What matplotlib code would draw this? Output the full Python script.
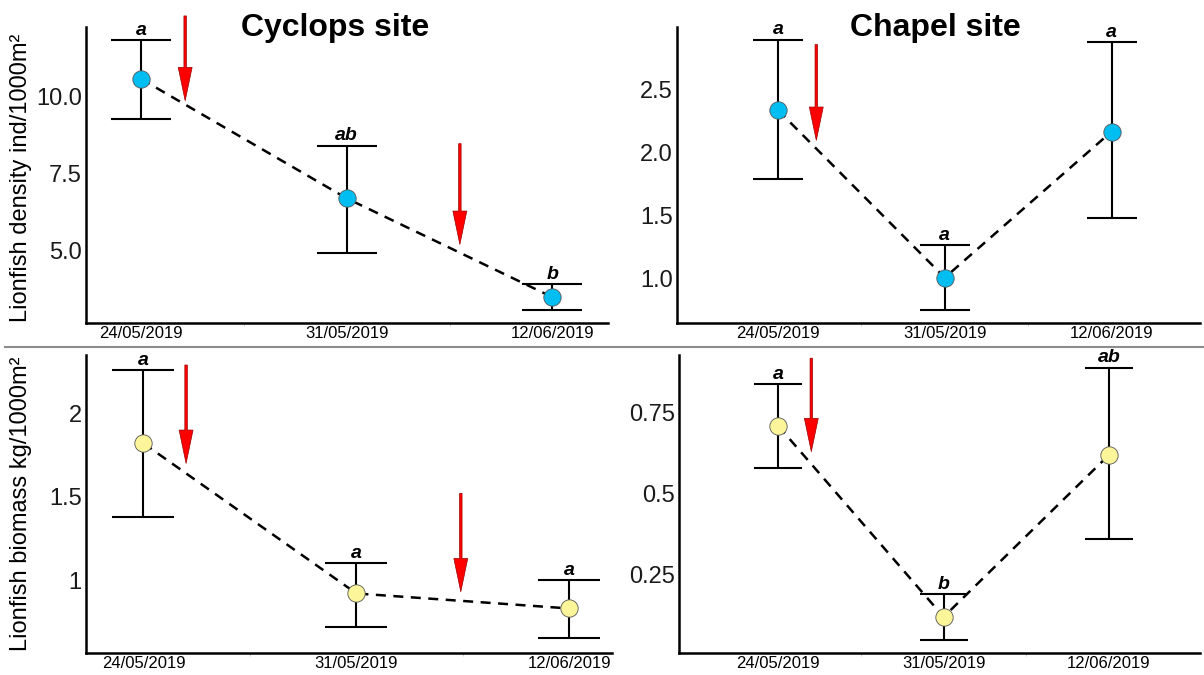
import matplotlib
matplotlib.use('Agg')
import matplotlib.pyplot as plt
from matplotlib.lines import Line2D

plt.rcParams['font.family'] = ['Liberation Sans', 'DejaVu Sans']

# 数据
dates = ['24/05/2019', '31/05/2019', '12/06/2019']
xpos = [1, 2, 3]

dens_cyclops = [10.58, 6.69, 3.47]
dens_cyclops_lo = [9.29, 4.90, 3.06]
dens_cyclops_hi = [11.85, 8.41, 3.90]
dens_cyclops_let = ['a', 'ab', 'b']

dens_chapel = [2.34, 1.01, 2.17]
dens_chapel_lo = [1.79, 0.75, 1.48]
dens_chapel_hi = [2.90, 1.27, 2.88]
dens_chapel_let = ['a', 'a', 'a']

bio_cyclops = [1.82, 0.92, 0.83]
bio_cyclops_lo = [1.38, 0.72, 0.65]
bio_cyclops_hi = [2.26, 1.10, 1.00]
bio_cyclops_let = ['a', 'a', 'a']

bio_chapel = [0.71, 0.117, 0.62]
bio_chapel_lo = [0.58, 0.045, 0.36]
bio_chapel_hi = [0.84, 0.187, 0.89]
bio_chapel_let = ['a', 'b', 'ab']

# 红色箭头 (x, 起点y, 终点y)
arrows_tl = [(1.215, 12.63, 9.87), (2.55, 8.47, 5.19)]
arrows_tr = [(1.23, 2.86, 2.10)]
arrows_bl = [(1.20, 2.29, 1.70), (2.49, 1.52, 0.93)]
arrows_br = [(1.20, 0.92, 0.63)]

blue = '#00BEF2'
yellow = '#FDF59A'

fig = plt.figure(figsize=(12.04, 6.75), dpi=100)

W, H = 1204, 675


def px_axes(left, right, top, bottom):
    return fig.add_axes((left / W, (H - bottom) / H, (right - left) / W, (bottom - top) / H))


def panel(ax, y, lo, hi, letters, color, arrows, xlim, ylim, yticks, yticklabels, capsize):
    yerr = [[v - l for v, l in zip(y, lo)], [h - v for v, h in zip(y, hi)]]
    ax.plot(xpos, y, color='black', ls=(0, (4, 3)), lw=1.8, zorder=2)
    ax.errorbar(xpos, y, yerr=yerr, fmt='none', ecolor='black', elinewidth=1.5,
                capsize=capsize, capthick=1.5, zorder=3)
    ax.plot(xpos, y, 'o', ms=12.5, mfc=color, mec='#555555', mew=0.6, ls='none', zorder=4)
    for x, h, t in zip(xpos, hi, letters):
        ax.annotate(t, (x, h), xytext=(0, 1), textcoords='offset points',
                    ha='center', va='bottom', fontsize=14, fontweight='bold',
                    style='italic', annotation_clip=False)
    for x, y0, y1 in arrows:
        ax.annotate('', xy=(x, y1), xytext=(x, y0),
                    arrowprops=dict(width=1.8, headwidth=10, headlength=24,
                                    facecolor='red', edgecolor='#9a0000', lw=0.5),
                    annotation_clip=False)
    ax.set_xlim(xlim)
    ax.set_ylim(ylim)
    ax.set_xticks(xpos)
    ax.set_xticklabels(dates, fontsize=12)
    ax.set_xticks([1.5, 2.5], minor=True)
    ax.tick_params(axis='x', which='minor', length=2, width=0.5, color='#bbbbbb')
    ax.set_yticks(yticks)
    ax.set_yticklabels(yticklabels, fontsize=17, color='#1a1a1a')
    ax.tick_params(axis='x', which='major', length=0, pad=2)
    ax.tick_params(axis='y', length=0, pad=3)
    for s in ['top', 'right']:
        ax.spines[s].set_visible(False)
    for s in ['left', 'bottom']:
        ax.spines[s].set_linewidth(1.8)


ax1 = px_axes(86, 608, 27, 323)
panel(ax1, dens_cyclops, dens_cyclops_lo, dens_cyclops_hi, dens_cyclops_let, blue, arrows_tl,
      (0.733, 3.27), (2.63, 12.27), [5.0, 7.5, 10.0], ['5.0', '7.5', '10.0'], 21.6)
ax1.set_ylabel('Lionfish density ind/1000m²', fontsize=17)
ax1.yaxis.set_label_coords(-0.104, 0.49)

ax2 = px_axes(677, 1200, 27, 323)
panel(ax2, dens_chapel, dens_chapel_lo, dens_chapel_hi, dens_chapel_let, blue, arrows_tr,
      (0.395, 3.53), (0.65, 3.0), [1.0, 1.5, 2.0, 2.5], ['1.0', '1.5', '2.0', '2.5'], 18)

ax3 = px_axes(86, 612, 355, 653)
panel(ax3, bio_cyclops, bio_cyclops_lo, bio_cyclops_hi, bio_cyclops_let, yellow, arrows_bl,
      (0.73, 3.2), (0.563, 2.35), [1, 1.5, 2], ['1', '1.5', '2'], 22.5)
ax3.set_ylabel('Lionfish biomass kg/1000m²', fontsize=17)
ax3.yaxis.set_label_coords(-0.103, 0.5)

ax4 = px_axes(679, 1200, 355, 653)
panel(ax4, bio_chapel, bio_chapel_lo, bio_chapel_hi, bio_chapel_let, yellow, arrows_br,
      (0.40, 3.55), (0.005, 0.93), [0.25, 0.5, 0.75], ['0.25', '0.5', '0.75'], 17.5)

# 标题
fig.text(335 / W, 1 - 28 / H, 'Cyclops site', ha='center', va='center', fontsize=23, fontweight='bold')
fig.text(935 / W, 1 - 28 / H, 'Chapel site', ha='center', va='center', fontsize=23, fontweight='bold')

# 分隔线
fig.add_artist(Line2D([5 / W, 1.0], [1 - 347 / H, 1 - 347 / H], color='#8c8c8c', lw=1.5))

fig.savefig('out.png', dpi=100)
